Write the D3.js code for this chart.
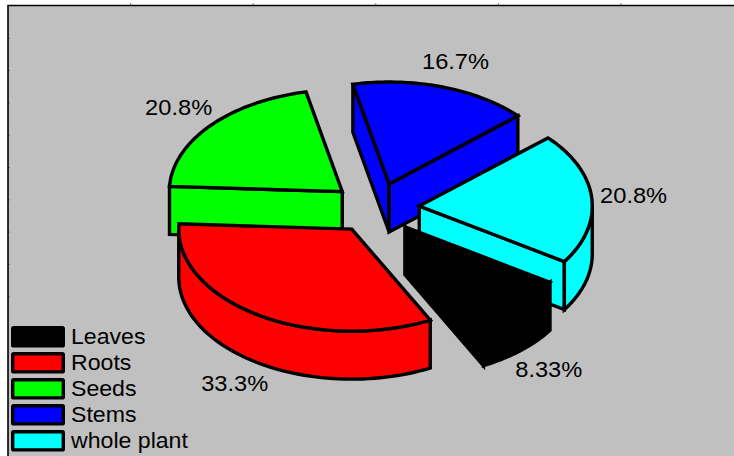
<!DOCTYPE html>
<html>
<head>
<meta charset="utf-8">
<script src="https://cdn.jsdelivr.net/npm/d3@7"></script>
<style>
  html, body { margin: 0; padding: 0; background: #fff; }
  svg { display: block; }
  text { font-family: "Liberation Sans", Arial, sans-serif; fill: #000; }
</style>
</head>
<body>
<svg id="chart" width="734" height="456"></svg>
<script>
const categories = ["Leaves", "Roots", "Seeds", "Stems", "whole plant"];
const shares = [8.33, 33.3, 20.8, 16.7, 20.8];
const shareLabels = ["8.33%", "33.3%", "20.8%", "16.7%", "20.8%"];
const sliceColors = ["#000000", "#ff0000", "#00ff00", "#0000ff", "#00ffff"];
const paintOrder = [2, 3, 4, 0, 1];

const W = 734, H = 456;
const cx = 375.6, cy = 208;          // pie centre on screen
const rx = 173, ry = 102;            // top-face ellipse radii
const explodeX = 43.8, explodeY = 25.2;
const depth = 48;                    // extrusion height
const labelRx = 215, labelRy = 128;
const firstAngle = (33 + 90) * Math.PI / 180;   // d3.pie measures from 12 o'clock
const strokeW = 3.4;

const svg = d3.select("#chart");

// Plot panel with its frame on the top and left
svg.append("rect").attr("x", 8).attr("y", 6).attr("width", W - 8).attr("height", H - 6).attr("fill", "#c0c0c0");
svg.append("path").attr("d", `M8,${H}V5.5H${W}`).attr("fill", "none").attr("stroke", "#000").attr("stroke-width", 1.6);

// Short unlabelled tick marks along the frame
const tickSpacingX = 122.6, tickSpacingY = 32.3;
svg.selectAll("line.tick-top").data(d3.range(1, 6)).join("line")
  .attr("class", "tick-top")
  .attr("x1", d => 8 + d * tickSpacingX).attr("x2", d => 8 + d * tickSpacingX)
  .attr("y1", 3).attr("y2", 5).attr("stroke", "#777");
svg.selectAll("line.tick-left").data(d3.range(1, 10)).join("line")
  .attr("class", "tick-left")
  .attr("x1", 9).attr("x2", 10)
  .attr("y1", d => 6 + d * tickSpacingY).attr("y2", d => 6 + d * tickSpacingY)
  .attr("stroke", "#777");

const arcs = d3.pie().sort(null).value(d => d)
  .startAngle(firstAngle).endAngle(firstAngle + 2 * Math.PI)(shares);

const outline = d3.line();

function drawSlice(arc, i) {
  const a0 = arc.startAngle - Math.PI / 2;
  const a1 = arc.endAngle - Math.PI / 2;
  const mid = (a0 + a1) / 2;
  const ax = cx + explodeX * Math.cos(mid);
  const ay = cy + explodeY * Math.sin(mid);
  const pt = (a, dy = 0) => [ax + rx * Math.cos(a), ay + ry * Math.sin(a) + dy];
  const sweep = (from, to) => d3.range(0, 61).map(k => from + (to - from) * k / 60);

  const g = svg.append("g")
    .attr("fill", sliceColors[i]).attr("stroke", "#000")
    .attr("stroke-width", strokeW).attr("stroke-linejoin", "miter").attr("stroke-miterlimit", 3);

  // Radial walls that face the viewer
  const wall = a => outline([[ax, ay], pt(a), pt(a, depth), [ax, ay + depth]]) + "Z";
  if (Math.cos(a0) < 0) g.append("path").attr("d", wall(a0));
  if (Math.cos(a1) > 0) g.append("path").attr("d", wall(a1));

  // Outer rim, front half of the ellipse only
  [[0, Math.PI], [2 * Math.PI, 3 * Math.PI]].forEach(([lo, hi]) => {
    const from = Math.max(a0, lo), to = Math.min(a1, hi);
    if (from < to) {
      const top = sweep(from, to).map(a => pt(a));
      const bottom = sweep(to, from).map(a => pt(a, depth));
      g.append("path").attr("d", outline(top.concat(bottom)) + "Z");
    }
  });

  // Top face
  const face = [[ax, ay]].concat(sweep(a0, a1).map(a => pt(a)));
  g.append("path").attr("d", outline(face) + "Z");
}

paintOrder.forEach(i => drawSlice(arcs[i], i));

// Percentage labels around the slices
arcs.forEach((arc, i) => {
  const mid = (arc.startAngle + arc.endAngle) / 2 - Math.PI / 2;
  const ax = cx + explodeX * Math.cos(mid);
  const ay = cy + explodeY * Math.sin(mid);
  const lx = ax + labelRx * Math.cos(mid);
  const ly = ay + labelRy * Math.sin(mid) + (Math.sin(mid) > 0 ? depth : 0);
  svg.append("text")
    .attr("transform", `translate(${lx},${ly + 6.8}) scale(1.1,1)`)
    .attr("text-anchor", "middle").attr("font-size", 21.5)
    .text(shareLabels[i]);
});

// Legend down the lower-left corner
const legendRow = d3.scaleBand().domain(categories).range([326, 456]);
const legend = svg.selectAll("g.key").data(categories).join("g").attr("class", "key");
legend.append("rect")
  .attr("x", 12.7).attr("y", d => legendRow(d) + 1.7)
  .attr("width", 50.6).attr("height", 18.2)
  .attr("rx", 1)
  .attr("fill", (d, i) => sliceColors[i]).attr("stroke", "#000").attr("stroke-width", 3.4);
legend.append("text")
  .attr("transform", d => `translate(71,${legendRow(d) + 18}) scale(1.075,1)`)
  .attr("font-size", 21.5)
  .text(d => d);
</script>
</body>
</html>
